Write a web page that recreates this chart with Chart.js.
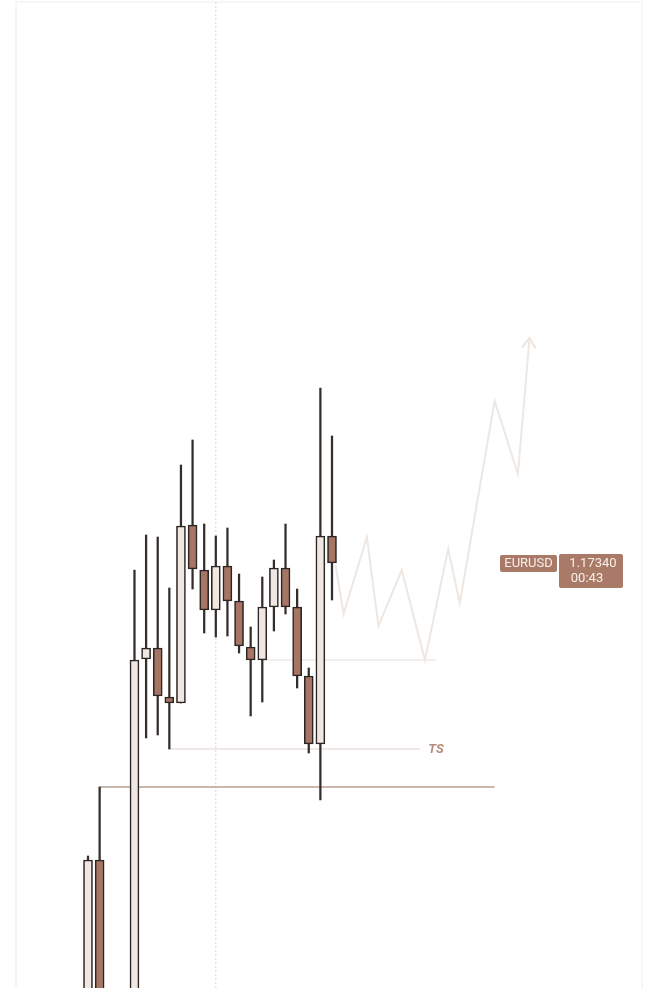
<!DOCTYPE html>
<html>
<head>
<meta charset="utf-8">
<script src="https://cdn.jsdelivr.net/npm/chart.js@4"></script>
<style>
  html, body { margin: 0; padding: 0; background: #fff; }
  canvas { display: block; }
</style>
</head>
<body>
<canvas id="chart" width="648" height="988"></canvas>
<script>
// candle slots (0..21), slots 2 and 3 have no visible candle
const slots = [0,1,2,3,4,5,6,7,8,9,10,11,12,13,14,15,16,17,18,19,20,21]
const open  = [1.16446,1.16746,null,null,1.16466,1.17148,1.17170,1.17072,1.17060,1.17416,1.17326,1.17246,1.17334,1.17264,1.17172,1.17146,1.17252,1.17330,1.17252,1.17114,1.16978,1.17394]
const high  = [1.16754,1.16892,null,null,1.17326,1.17396,1.17392,1.17290,1.17536,1.17586,1.17418,1.17394,1.17410,1.17318,1.17212,1.17312,1.17346,1.17418,1.17288,1.17130,1.17690,1.17594]
const low   = [1.16426,1.16446,null,null,1.16446,1.16990,1.16996,1.16968,1.17060,1.17288,1.17200,1.17192,1.17194,1.17160,1.17034,1.17062,1.17204,1.17238,1.17090,1.16960,1.16866,1.17266]
const close = [1.16746,1.16466,null,null,1.17146,1.17170,1.17074,1.17060,1.17414,1.17328,1.17246,1.17334,1.17264,1.17174,1.17146,1.17252,1.17330,1.17252,1.17114,1.16978,1.17394,1.17340]

// projected path (slot, price)
const pathX = [21.3,22,24,25,27,29,31,32,35,37,38]
const pathY = [1.17336,1.17238,1.17392,1.17214,1.17326,1.17146,1.17368,1.17260,1.17664,1.17518,1.17790]

// horizontal levels
const highLevel = 1.16892, highFrom = 1, highTo = 35
const tsLevel = 1.16968, tsFrom = 7, tsTo = 28.6
const baseLevel = 1.17146, baseFrom = 15, baseTo = 30
const sessionSlot = 11
const symbol = 'EURUSD'
const lastPrice = '1.17340'
const countdown = '00:43'

const yMin = 1.16490, yMax = 1.18466
const bull = '#f1e7e2', bear = '#a67563', edge = '#2b2523', tag = '#a97a67'

const idx = slots.filter(i => open[i] !== null)
const bodies = idx.map(i => ({ x: i, y: [open[i], close[i]] }))
const wicks = idx.map(i => ({ x: i, y: [low[i], high[i]] }))
const bodyColors = idx.map(i => close[i] >= open[i] ? bull : bear)

const seg = (x1, x2, y) => [{ x: x1, y }, { x: x2, y }]
const lineDs = (data, color, width, extra) => Object.assign({
  type: 'line', data, borderColor: color, borderWidth: width, pointRadius: 0,
  tension: 0, fill: false, order: 2
}, extra || {})

const overlay = {
  id: 'overlay',
  beforeDraw(chart) {
    const c = chart.ctx
    c.save()
    c.fillStyle = '#fff'
    c.fillRect(0, 0, chart.width, chart.height)
    c.strokeStyle = '#f4f4f4'
    c.lineWidth = 1.5
    c.beginPath()
    c.moveTo(16, chart.height); c.lineTo(16, 2); c.lineTo(642, 2); c.lineTo(642, chart.height)
    c.stroke()
    c.restore()
  },
  afterDatasetsDraw(chart) {
    const c = chart.ctx, x = chart.scales.x, y = chart.scales.y
    c.save()
    // arrow head on projected path
    const n = pathX.length
    const tx = x.getPixelForValue(pathX[n - 1]), ty = y.getPixelForValue(pathY[n - 1])
    const px = x.getPixelForValue(pathX[n - 2]), py = y.getPixelForValue(pathY[n - 2])
    const a = Math.atan2(ty - py, tx - px)
    c.strokeStyle = '#ede5de'
    c.lineWidth = 2
    c.beginPath()
    c.moveTo(tx - 12 * Math.cos(a - 0.6), ty - 12 * Math.sin(a - 0.6))
    c.lineTo(tx, ty)
    c.lineTo(tx - 12 * Math.cos(a + 0.6), ty - 12 * Math.sin(a + 0.6))
    c.stroke()

    // TS label
    c.fillStyle = '#b38c7c'
    c.font = 'italic bold 13px Roboto'
    c.textBaseline = 'middle'
    c.fillText('TS', x.getPixelForValue(tsTo) + 8, y.getPixelForValue(tsLevel) + 1)

    // price tag
    const py0 = y.getPixelForValue(close[close.length - 1])
    c.fillStyle = tag
    c.beginPath(); c.roundRect(500, py0 - 8, 57, 17, 2); c.fill()
    c.beginPath(); c.roundRect(559, py0 - 9, 64, 34, 2); c.fill()
    c.fillStyle = '#f7eeea'
    c.font = '13px Roboto'
    c.textAlign = 'center'
    c.fillText(symbol, 528.5, py0 + 1)
    c.fillText(lastPrice, 593, py0 + 1)
    c.fillText(countdown, 587, py0 + 16)
    c.restore()
  }
}

new Chart(document.getElementById('chart'), {
  type: 'bar',
  data: {
    datasets: [
      {
        data: bodies, backgroundColor: bodyColors, borderColor: edge, borderWidth: 1.6,
        borderSkipped: false, barThickness: 9, grouped: false, order: 0
      },
      {
        data: wicks, backgroundColor: '#342e2b', borderWidth: 0,
        barThickness: 1.6, grouped: false, order: 1
      },
      lineDs(pathX.map((v, i) => ({ x: v, y: pathY[i] })), '#efe7e1', 2),
      lineDs(seg(highFrom, highTo, highLevel), '#b9a195', 1.5),
      lineDs(seg(tsFrom, tsTo, tsLevel), '#e9e2de', 1.5),
      lineDs(seg(baseFrom, baseTo, baseLevel), '#eee8e4', 1.5),
      lineDs([{ x: sessionSlot, y: yMin }, { x: sessionSlot, y: yMax }], '#dcdcdc', 1.2, { borderDash: [2, 2], order: 3 })
    ]
  },
  options: {
    responsive: false,
    animation: false,
    layout: { padding: 0 },
    plugins: { legend: { display: false }, tooltip: { enabled: false } },
    scales: {
      x: { type: 'linear', min: -7.574, max: 48.197, offset: false, display: false },
      y: { min: yMin, max: yMax, display: false }
    }
  },
  plugins: [overlay]
})
</script>
</body>
</html>
